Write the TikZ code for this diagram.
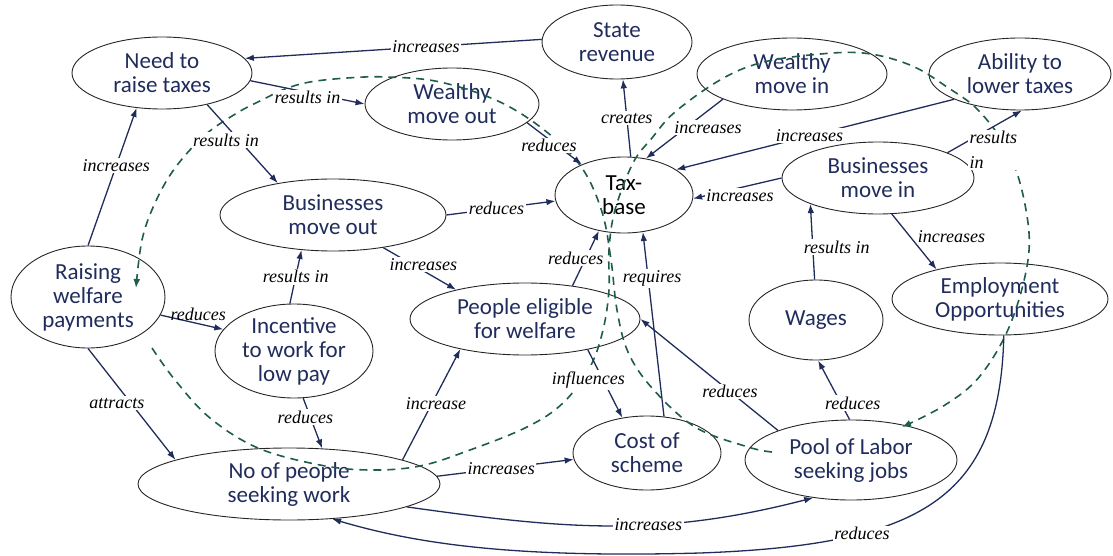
\documentclass[tikz,border=0pt]{standalone}
\usepackage{fontspec}
\newfontfamily\nodefont{Carlito}
\newfontfamily\labfont{Liberation Serif}
\usetikzlibrary{shapes.geometric, arrows.meta}
\definecolor{navy}{RGB}{32,44,92}
\definecolor{loopgreen}{RGB}{30,92,76}

\begin{document}
\begin{tikzpicture}[x=1pt, y=-1pt,
	concept/.style={ellipse, draw=black!85, line width=0.9pt, inner sep=-4pt, align=center, text=navy, font=\nodefont\fontsize{23}{24}\selectfont},
	link/.style={->, >={Latex[length=9pt,width=6.5pt]}, draw=navy, line width=1.3pt},
	lab/.style={font=\labfont\itshape\fontsize{18}{21}\selectfont, text=black, fill=white, inner sep=1.5pt},
	loopdash/.style={->, >={Latex[length=9pt,width=7pt]}, draw=loopgreen, line width=1.6pt, dash pattern=on 8pt off 6pt}]
	\useasboundingbox (0,0) rectangle (1113,556);

	%top row
	\node[concept, minimum width=180pt, minimum height=72pt] (ntrt) at (162,73) {Need to\\raise taxes};
	\node[concept, minimum width=150pt, minimum height=74pt] (srev) at (617,42) {State\\revenue};
	\node[concept, minimum width=174pt, minimum height=72pt] (wmo) at (452,104) {Wealthy\\move out};
	\node[concept, minimum width=190pt, minimum height=72pt] (wmi) at (792,74) {Wealthy\\move in};
	\node[concept, minimum width=182pt, minimum height=72pt] (abil) at (1020,74) {Ability to\\lower taxes};

	%middle row
	\node[concept, minimum width=138pt, minimum height=76pt, text=black] (tax) at (624,195) {Tax-\\base};
	\node[concept, minimum width=192pt, minimum height=72pt] (bmi) at (878,178) {Businesses\\move in};
	\node[concept, minimum width=226pt, minimum height=72pt] (bmo) at (333,215) {Businesses\\move out};
	\node[concept, minimum width=154pt, minimum height=102pt] (rwp) at (88,297) {Raising\\welfare\\payments};
	\node[concept, minimum width=158pt, minimum height=94pt] (inc) at (294,351) {Incentive\\to work for\\low pay};
	\node[concept, minimum width=230pt, minimum height=72pt] (pew) at (525,319) {People eligible\\for welfare};
	\node[concept, minimum width=134pt, minimum height=80pt] (wage) at (816,320) {Wages};
	\node[concept, minimum width=216pt, minimum height=72pt] (emp) at (1000,299) {Employment\\Opportunities};

	%bottom row
	\node[concept, minimum width=302pt, minimum height=72pt] (nop) at (289,484) {No of people\\seeking work};
	\node[concept, minimum width=148pt, minimum height=74pt] (cost) at (647,453) {Cost of\\scheme};
	\node[concept, minimum width=212pt, minimum height=80pt] (pool) at (851,460) {Pool of Labor\\seeking jobs};

	%dashed loops
	\draw[loopdash] plot[smooth, tension=0.6] coordinates {(772,452) (748,447) (695,427) (652,388) (628,352) (617,310) (611,260) (602,212) (582,168) (548,133) (500,102) (440,82) (387,77) (347,78) (310,82) (285,89) (262,100) (237,113) (205,135) (175,168) (155,203) (142,240) (136,288)};	%pool -> raising
	\draw[loopdash] plot[smooth, tension=0.6] coordinates {(152,348) (175,380) (210,418) (258,448) (320,465) (370,470) (420,466) (470,450) (527,427) (563,403) (590,367) (603,330) (609,290) (609,250) (615,210) (633,163) (652,138) (675,112) (720,80) (760,63) (810,55) (863,53) (910,65) (947,87) (980,112) (1010,155) (1026,210) (1028,260) (1010,325) (980,376) (945,405) (902,427)};	%raising -> pool

	%links
	\draw[link] (srev.178) -- node[lab,pos=0.39]{increases} (ntrt.10);
	\draw[link] (ntrt.-5) -- node[lab,pos=0.5,yshift=-5pt]{results in} (wmo.west);
	\draw[link] (ntrt.-35) -- node[lab,pos=0.45,xshift=-13pt]{results in} (bmo.150);
	\draw[link] (rwp.north) -- node[lab,pos=0.58]{increases} (ntrt.-126);
	\draw[link] (wmo.-14) -- node[lab,pos=0.4,yshift=-6pt]{reduces} (tax.144);
	\draw[link] (tax.80) -- node[lab,pos=0.5]{creates} (srev.-81);
	\draw[link] (wmi.200) -- node[lab,pos=0.48,xshift=22pt]{increases} (tax.59);
	\draw[link] (abil.201) -- node[lab,pos=0.52]{increases} (tax.26);
	\draw[link] (bmi.20) -- node[lab,align=left,pos=0.27,anchor=north west,yshift=12pt]{results\\[4pt]in} (abil.-87);
	\draw[link] (bmi.west) -- node[lab,pos=0.47,yshift=-8pt]{increases} (tax.-3);
	\draw[link] (bmo.east) -- node[lab,pos=0.46]{reduces} (tax.185);
	\draw[link] (wage.92) -- node[lab,pos=0.43,xshift=24pt]{results in} (bmi.201);
	\draw[link] (bmi.-69) -- node[lab,pos=0.4,anchor=west,xshift=6pt,fill=none]{increases} (emp.155);
	\draw[link] (bmo.-33) -- node[lab,pos=0.55,yshift=6pt]{increases} (pew.157);
	\draw[link] (pew.35) -- node[lab,pos=0.5,xshift=-10pt]{reduces} (tax.235);
	\draw[link] (cost.65) -- node[lab,pos=0.75,xshift=4pt]{requires} (tax.-63);
	\draw[link] (rwp.-14) -- node[lab,pos=0.6,above=1pt,fill=none]{reduces} (inc.163);
	\draw[link] (inc.95) -- node[lab,pos=0.5]{results in} (bmo.228);
	\draw[link] (rwp.south) -- node[lab,pos=0.49,xshift=-14pt]{attracts} (nop.168);
	\draw[link] (inc.-79) -- node[lab,pos=0.38,xshift=-5pt]{reduces} (nop.47);
	\draw[link] (nop.12) -- node[lab,pos=0.51,xshift=4pt]{increase} (pew.205);
	\draw[link] (pew.-26) -- node[lab,pos=0.45,xshift=-15pt]{influences} (cost.125);
	\draw[link] (nop.3) -- node[lab,pos=0.47]{increases} (cost.185);
	\draw[link] (pool.158) -- node[lab,pos=0.35]{reduces} (pew.east);
	\draw[link] (pool.92) -- node[lab,pos=0.28,xshift=12pt]{reduces} (wage.-87);

	%long curves at the bottom
	\draw[link] (nop.-11) .. controls (564,529) and (658,538) .. node[lab,pos=0.6]{increases} (pool.225);
	\draw[link] (emp.-84) .. controls (1000,500) and (920,545) .. node[lab,pos=0.7]{reduces} (700,553) .. controls (520,558) and (420,545) .. (nop.-39);
\end{tikzpicture}
\end{document}
